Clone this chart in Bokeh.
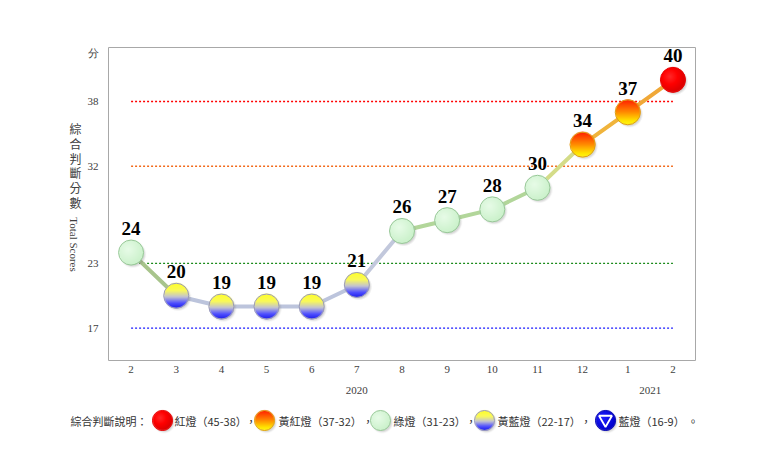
import numpy as np
from bokeh.plotting import figure
from bokeh.models import ColumnDataSource, FixedTicker, LinearAxis, Range1d
from bokeh.layouts import row
from bokeh.embed import file_html
from bokeh.resources import INLINE
from bokeh.core.properties import value

# ---------------- data ----------------
months = ["2", "3", "4", "5", "6", "7", "8", "9", "10", "11", "12", "1", "2"]
scores = [24, 20, 19, 19, 19, 21, 26, 27, 28, 30, 34, 37, 40]
year_labels = ["2020", "2021"]
year_positions = [5, 11.5]          # centred under month index
y_tick_values = [17, 23, 32, 38]
threshold_values = [38, 32, 23, 17]
y_title_zh = "綜合判斷分數"
y_title_en = "Total Scores"
legend_title = "綜合判斷說明："
legend_labels = ["紅燈（45-38）", "黃紅燈（37-32）", "綠燈（31-23）", "黃藍燈（22-17）", "藍燈（16-9）"]
legend_kinds = ["red", "yr", "green", "yb", "blue"]

# ---------------- styles ----------------
threshold_colors = ["#ff0000", "#f26a1b", "#1a8a1a", "#1a1aff"]
outline_colors = {"red": "#e80000", "yr": "#e0a010", "green": "#98c898", "yb": "#9a9ab8", "blue": "#0000b0"}
seg_colors = {
    ("green", "yb"): "#a8c48c", ("yb", "yb"): "#bcc4dc", ("yb", "green"): "#c2c8dc",
    ("green", "green"): "#b2d69a", ("green", "yr"): "#d4dc88", ("yr", "yr"): "#f0b43c",
    ("yr", "red"): "#f0a838",
}
SERIF_NAME = "Liberation Serif"
CJK_NAME = "Noto Sans CJK TC"
SERIF = value(SERIF_NAME)
CJK = value(CJK_NAME)


def lamp_kind(v):
    if v >= 38:
        return "red"
    if v >= 32:
        return "yr"
    if v >= 23:
        return "green"
    if v >= 17:
        return "yb"
    return "blue"


def ramp(t, stops):
    pos = [s[0] for s in stops]
    out = np.zeros(t.shape + (3,))
    for ch in range(3):
        out[..., ch] = np.interp(t, pos, [s[1][ch] for s in stops])
    return out


def lamp_image(kind, px, radius, scale=4):
    n = px * scale
    c = (np.arange(n) + 0.5) / scale
    X, Y = np.meshgrid(c, c)
    yt = px - Y                      # row 0 is the bottom in bokeh
    dx = X - px / 2.0
    dy = yt - px / 2.0
    r = np.sqrt(dx ** 2 + dy ** 2)
    alpha = np.clip(radius - r + 0.5, 0, 1)
    sr = np.sqrt((dx - 1.6) ** 2 + (dy - 2.0) ** 2)
    salpha = np.clip((radius + 1.0 - sr) / 2.5, 0, 1) * 0.30
    t = np.clip((dy + radius) / (2 * radius), 0, 1)
    rn = np.clip(np.sqrt((dx + 0.25 * radius) ** 2 + (dy + 0.25 * radius) ** 2) / (1.25 * radius), 0, 1)
    if kind == "red":
        rgb = ramp(rn, [(0, (255, 40, 40)), (0.5, (255, 0, 0)), (1, (220, 0, 0))])
    elif kind == "yr":
        rgb = ramp(t, [(0, (255, 30, 0)), (0.5, (255, 140, 0)), (0.85, (255, 230, 0)), (1, (255, 245, 20))])
    elif kind == "green":
        rgb = ramp(rn, [(0, (232, 252, 232)), (1, (204, 242, 204))])
    elif kind == "yb":
        rgb = ramp(t, [(0, (255, 255, 40)), (0.3, (250, 250, 90)), (0.55, (195, 195, 210)),
                       (0.8, (80, 80, 255)), (1, (30, 30, 235))])
    else:
        rgb = ramp(rn, [(0, (30, 30, 255)), (1, (0, 0, 205))])
    sh = np.array([110, 110, 110], dtype=float)
    out_a = alpha + salpha * (1 - alpha)
    safe = np.where(out_a > 0, out_a, 1)
    out_rgb = (rgb * alpha[..., None] + sh * (salpha * (1 - alpha))[..., None]) / safe[..., None]
    img = np.zeros((n, n, 4), dtype=np.uint8)
    img[..., :3] = np.clip(out_rgb, 0, 255).astype(np.uint8)
    img[..., 3] = np.clip(out_a * 255, 0, 255).astype(np.uint8)
    return img.view(np.uint32).reshape(n, n)


idx = list(range(len(months)))
kinds = [lamp_kind(v) for v in scores]

TW = 84  # width of the y-title strip

# ---------------- main figure ----------------
p = figure(width=777 - TW, height=408, x_range=Range1d(-0.5, 12.5), y_range=Range1d(14, 43),
           output_backend="svg", toolbar_location=None, tools="",
           min_border_left=107 - TW, min_border_right=82, min_border_top=47, min_border_bottom=48)
p.xgrid.visible = False
p.ygrid.visible = False
p.outline_line_color = "#a8a8a8"
p.outline_line_width = 1
p.background_fill_color = "white"
p.border_fill_color = "white"

# threshold dotted lines
p.segment(x0=[idx[0]] * 4, x1=[idx[-1]] * 4, y0=threshold_values, y1=threshold_values,
          line_color=threshold_colors, line_width=1.4, line_dash="2 2")

# connecting line segments
seg_src = ColumnDataSource(dict(
    x0=idx[:-1], x1=idx[1:], y0=scores[:-1], y1=scores[1:],
    c=[seg_colors[(a, b)] for a, b in zip(kinds[:-1], kinds[1:])]))
p.segment("x0", "y0", "x1", "y1", source=seg_src, line_color="c", line_width=4, line_cap="round")

# lamps
img_cache = {k: lamp_image(k, 32, 12.5) for k in set(kinds)}
lamp_src = ColumnDataSource(dict(
    x=idx, y=scores, image=[img_cache[k] for k in kinds],
    oc=[outline_colors[k] for k in kinds], lab=[str(v) for v in scores]))
p.image_rgba(image="image", x="x", y="y", dw=32, dh=32, dw_units="screen", dh_units="screen",
             anchor="center", source=lamp_src)
p.scatter("x", "y", source=lamp_src, size=25, fill_alpha=0, line_color="oc", line_width=1)

p.text("x", "y", text="lab", source=lamp_src, text_font=SERIF, text_font_style="bold",
       text_font_size="19px", text_align="center", text_baseline="middle", y_offset=-24,
       text_color="#000000")

# axes
p.xaxis.ticker = FixedTicker(ticks=idx)
p.xaxis.major_label_overrides = {i: m for i, m in zip(idx, months)}
p.yaxis.ticker = FixedTicker(ticks=y_tick_values + [42.5])
p.yaxis.major_label_overrides = {42.5: "分"}
for ax in (p.xaxis[0], p.yaxis[0]):
    ax.axis_line_color = None
    ax.major_tick_line_color = None
    ax.minor_tick_line_color = None
    ax.major_tick_out = 0
    ax.major_tick_in = 0
    ax.major_label_text_font = SERIF_NAME
    ax.major_label_text_font_size = "11px"
    ax.major_label_text_color = "#404040"
p.xaxis.major_label_standoff = 5
p.yaxis.major_label_standoff = 10

yr_axis = LinearAxis(ticker=FixedTicker(ticks=year_positions),
                     major_label_overrides={pos: lab for pos, lab in zip(year_positions, year_labels)},
                     axis_line_color=None, major_tick_line_color=None, minor_tick_line_color=None,
                     major_tick_out=0, major_tick_in=0, major_label_standoff=11,
                     major_label_text_font=SERIF_NAME, major_label_text_font_size="11px",
                     major_label_text_color="#404040")
p.add_layout(yr_axis, "below")

# ---------------- y-title strip (data units = page pixels) ----------------
tf = figure(width=TW, height=408, x_range=Range1d(0, TW), y_range=Range1d(360, 47),
            output_backend="svg", toolbar_location=None, tools="",
            x_axis_type=None, y_axis_type=None,
            min_border_left=0, min_border_right=0, min_border_top=47, min_border_bottom=48)
tf.outline_line_color = None
tf.xgrid.visible = False
tf.ygrid.visible = False
zh_chars = list(y_title_zh)
zh_y = [128 + 14.8 * i for i in range(len(zh_chars))]   # vertical stacking step (layout)
tf.text(x=[75] * len(zh_chars), y=zh_y, text=zh_chars, text_font=CJK, text_font_size="12px",
        text_align="center", text_baseline="middle", text_color="#404040")
tf.text(x=[73], y=[244], text=[y_title_en], angle=-np.pi / 2, text_font=SERIF,
        text_font_size="11px", text_align="center", text_baseline="middle", text_color="#404040")

# ---------------- legend figure ----------------
lg = figure(width=777, height=45, x_range=Range1d(0, 777), y_range=Range1d(0, 45),
            output_backend="svg", toolbar_location=None, tools="",
            x_axis_type=None, y_axis_type=None,
            min_border_left=0, min_border_right=0, min_border_top=0, min_border_bottom=0)
lg.outline_line_color = None
lg.xgrid.visible = False
lg.ygrid.visible = False

ly = 33
lamp_x = [162, 264, 380, 484, 605]
text_x = [174, 278, 393, 497, 618]
sep_x = [245, 362, 465, 580, 687]
seps = ["，", "，", "，", "，", "。"]

lg_img = {k: lamp_image(k, 26, 10.0) for k in legend_kinds}
lg_src = ColumnDataSource(dict(x=lamp_x, y=[ly] * 5, image=[lg_img[k] for k in legend_kinds],
                               oc=[outline_colors[k] for k in legend_kinds]))
lg.image_rgba(image="image", x="x", y="y", dw=26, dh=26, dw_units="screen", dh_units="screen",
              anchor="center", source=lg_src)
lg.scatter("x", "y", source=lg_src, size=20, fill_alpha=0, line_color="oc", line_width=1)
lg.scatter(x=[lamp_x[4]], y=[ly + 1], marker="inverted_triangle", size=13, fill_alpha=0,
           line_color="white", line_width=1.8)

lg.text(x=[70] + text_x + sep_x, y=[ly] * 11, text=[legend_title] + legend_labels + seps,
        text_font=CJK, text_font_size="11px", text_align="left", text_baseline="middle",
        text_color="#333333")

top = row(tf, p, spacing=0)
open("out.html", "w").write(file_html([top, lg], INLINE))
